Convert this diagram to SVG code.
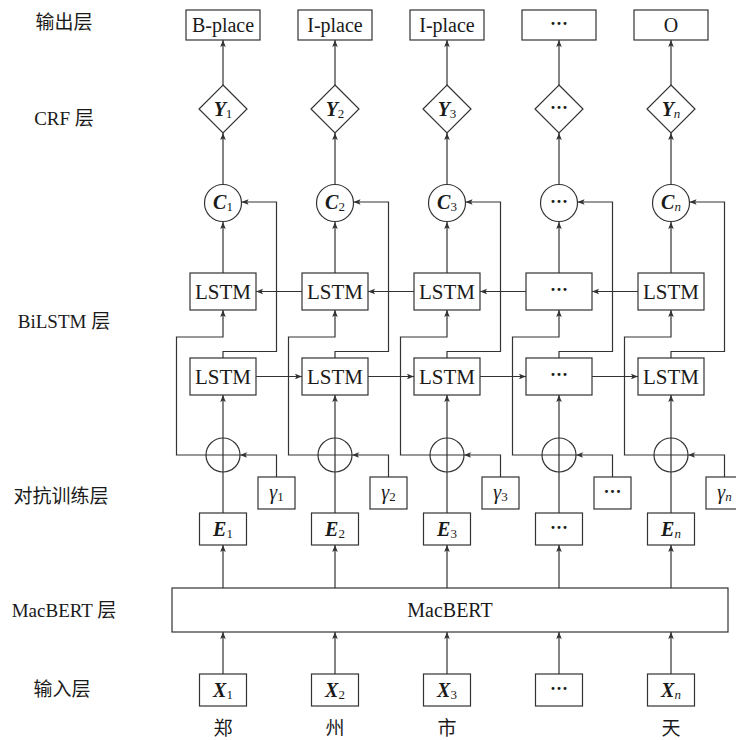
<svg xmlns="http://www.w3.org/2000/svg" width="736" height="740" viewBox="0 0 736 740">
<style>
.box{fill:#fff;stroke:#333;stroke-width:1.2}
.ln{fill:none;stroke:#333;stroke-width:1.2}
.arr{marker-end:url(#ah)}
text{font-family:"Liberation Serif","Noto Sans CJK SC",serif;fill:#1a1a1a;text-anchor:middle}
.lbl{font-size:19px}
.t{font-size:20px}
.ls{font-size:21px}
.sym{font-size:20px}
.bi{font-weight:bold;font-style:italic}
.it{font-style:italic}
.sub{font-size:13px}
.dots{font-size:18px;font-weight:bold}
.cjk{font-family:"Noto Sans CJK SC",sans-serif;font-size:19px}
</style>
<defs>
<marker id="ah" viewBox="0 0 10 10" refX="10" refY="5" markerWidth="7" markerHeight="7" markerUnits="userSpaceOnUse" orient="auto"><path d="M0,1 L10,5 L0,9 L2,5 z" fill="#333"/></marker>
</defs>
<g id="labels">
<text class="lbl" x="64" y="29">输出层</text>
<text class="lbl" x="64" y="125">CRF 层</text>
<text class="lbl" x="64" y="328">BiLSTM 层</text>
<text class="lbl" x="61" y="503">对抗训练层</text>
<text class="lbl" x="64" y="617">MacBERT 层</text>
<text class="lbl" x="62" y="696">输入层</text>
</g>
<g id="connectors">
<path class="ln arr" d="M223,85V40"/><path class="ln arr" d="M223,185V133"/><path class="ln arr" d="M223,273V222"/>
<path class="ln arr" d="M223,358V351.5H276.5V202H241.5"/><path class="ln arr" d="M223,438V395"/>
<path class="ln arr" d="M206,455H176.5V337H223V310"/><path class="ln arr" d="M276.5,477V455H240"/>
<path class="ln" d="M223,513V472"/><path class="ln arr" d="M223,588V545"/><path class="ln arr" d="M223,674V632"/>
<path class="ln arr" d="M335,85V40"/><path class="ln arr" d="M335,185V133"/><path class="ln arr" d="M335,273V222"/>
<path class="ln arr" d="M335,358V351.5H388.5V202H353.5"/><path class="ln arr" d="M335,438V395"/>
<path class="ln arr" d="M318,455H288.5V337H335V310"/><path class="ln arr" d="M388.5,477V455H352"/>
<path class="ln" d="M335,513V472"/><path class="ln arr" d="M335,588V545"/><path class="ln arr" d="M335,674V632"/>
<path class="ln arr" d="M447,85V40"/><path class="ln arr" d="M447,185V133"/><path class="ln arr" d="M447,273V222"/>
<path class="ln arr" d="M447,358V351.5H500.5V202H465.5"/><path class="ln arr" d="M447,438V395"/>
<path class="ln arr" d="M430,455H400.5V337H447V310"/><path class="ln arr" d="M500.5,477V455H464"/>
<path class="ln" d="M447,513V472"/><path class="ln arr" d="M447,588V545"/><path class="ln arr" d="M447,674V632"/>
<path class="ln arr" d="M559,85V40"/><path class="ln arr" d="M559,185V133"/><path class="ln arr" d="M559,273V222"/>
<path class="ln arr" d="M559,358V351.5H612.5V202H577.5"/><path class="ln arr" d="M559,438V395"/>
<path class="ln arr" d="M542,455H512.5V337H559V310"/><path class="ln arr" d="M612.5,477V455H576"/>
<path class="ln" d="M559,513V472"/><path class="ln arr" d="M559,588V545"/><path class="ln arr" d="M559,674V632"/>
<path class="ln arr" d="M671,85V40"/><path class="ln arr" d="M671,185V133"/><path class="ln arr" d="M671,273V222"/>
<path class="ln arr" d="M671,358V351.5H724.5V202H689.5"/><path class="ln arr" d="M671,438V395"/>
<path class="ln arr" d="M654,455H624.5V337H671V310"/><path class="ln arr" d="M724.5,477V455H688"/>
<path class="ln" d="M671,513V472"/><path class="ln arr" d="M671,588V545"/><path class="ln arr" d="M671,674V632"/>
<path class="ln arr" d="M302,291.5H256"/><path class="ln arr" d="M414,291.5H368"/><path class="ln arr" d="M526,291.5H480"/><path class="ln arr" d="M638,291.5H592"/>
<path class="ln arr" d="M256,376.5H302"/><path class="ln arr" d="M368,376.5H414"/><path class="ln arr" d="M480,376.5H526"/><path class="ln arr" d="M592,376.5H638"/>
</g>
<g id="macbert"><rect class="box" x="172" y="588" width="556" height="44"/><text class="t" x="450" y="617">MacBERT</text></g>
<g id="col1">
<g id="out1"><rect class="box" x="186" y="10" width="74" height="30"/><text class="t" x="223" y="32">B-place</text></g>
<g id="y1"><polygon class="box" points="223,85 247,109 223,133 199,109"/><text class="sym" x="223" y="116"><tspan class="bi">Y</tspan><tspan class="sub" dy="2">1</tspan></text></g>
<g id="c1"><circle class="box" cx="223" cy="203" r="18.5"/><text class="sym" x="223" y="209"><tspan class="bi">C</tspan><tspan class="sub" dy="2">1</tspan></text></g>
<g id="lstmb1"><rect class="box" x="190" y="273" width="66" height="37"/><text class="ls" x="223" y="299">LSTM</text></g>
<g id="lstmf1"><rect class="box" x="190" y="358" width="66" height="37"/><text class="ls" x="223" y="384">LSTM</text></g>
<g id="plus1"><circle class="box" cx="223" cy="455" r="17"/><path class="ln" d="M206,455H240M223,438V472"/></g>
<g id="g1"><rect class="box" x="258" y="477" width="37" height="32"/><text class="sym" x="276.5" y="499"><tspan class="it">γ</tspan><tspan class="sub" dy="2">1</tspan></text></g>
<g id="e1"><rect class="box" x="199.5" y="513" width="47" height="32"/><text class="sym" x="223" y="536"><tspan class="bi">E</tspan><tspan class="sub" dy="2">1</tspan></text></g>
<g id="x1"><rect class="box" x="199.5" y="674" width="47" height="32"/><text class="sym" x="223" y="697"><tspan class="bi">X</tspan><tspan class="sub" dy="2">1</tspan></text></g>
<text class="cjk" x="223" y="735">郑</text>
</g>
<g id="col2">
<g id="out2"><rect class="box" x="298" y="10" width="74" height="30"/><text class="t" x="335" y="32">I-place</text></g>
<g id="y2"><polygon class="box" points="335,85 359,109 335,133 311,109"/><text class="sym" x="335" y="116"><tspan class="bi">Y</tspan><tspan class="sub" dy="2">2</tspan></text></g>
<g id="c2"><circle class="box" cx="335" cy="203" r="18.5"/><text class="sym" x="335" y="209"><tspan class="bi">C</tspan><tspan class="sub" dy="2">2</tspan></text></g>
<g id="lstmb2"><rect class="box" x="302" y="273" width="66" height="37"/><text class="ls" x="335" y="299">LSTM</text></g>
<g id="lstmf2"><rect class="box" x="302" y="358" width="66" height="37"/><text class="ls" x="335" y="384">LSTM</text></g>
<g id="plus2"><circle class="box" cx="335" cy="455" r="17"/><path class="ln" d="M318,455H352M335,438V472"/></g>
<g id="g2"><rect class="box" x="370" y="477" width="37" height="32"/><text class="sym" x="388.5" y="499"><tspan class="it">γ</tspan><tspan class="sub" dy="2">2</tspan></text></g>
<g id="e2"><rect class="box" x="311.5" y="513" width="47" height="32"/><text class="sym" x="335" y="536"><tspan class="bi">E</tspan><tspan class="sub" dy="2">2</tspan></text></g>
<g id="x2"><rect class="box" x="311.5" y="674" width="47" height="32"/><text class="sym" x="335" y="697"><tspan class="bi">X</tspan><tspan class="sub" dy="2">2</tspan></text></g>
<text class="cjk" x="335" y="735">州</text>
</g>
<g id="col3">
<g id="out3"><rect class="box" x="410" y="10" width="74" height="30"/><text class="t" x="447" y="32">I-place</text></g>
<g id="y3"><polygon class="box" points="447,85 471,109 447,133 423,109"/><text class="sym" x="447" y="116"><tspan class="bi">Y</tspan><tspan class="sub" dy="2">3</tspan></text></g>
<g id="c3"><circle class="box" cx="447" cy="203" r="18.5"/><text class="sym" x="447" y="209"><tspan class="bi">C</tspan><tspan class="sub" dy="2">3</tspan></text></g>
<g id="lstmb3"><rect class="box" x="414" y="273" width="66" height="37"/><text class="ls" x="447" y="299">LSTM</text></g>
<g id="lstmf3"><rect class="box" x="414" y="358" width="66" height="37"/><text class="ls" x="447" y="384">LSTM</text></g>
<g id="plus3"><circle class="box" cx="447" cy="455" r="17"/><path class="ln" d="M430,455H464M447,438V472"/></g>
<g id="g3"><rect class="box" x="482" y="477" width="37" height="32"/><text class="sym" x="500.5" y="499"><tspan class="it">γ</tspan><tspan class="sub" dy="2">3</tspan></text></g>
<g id="e3"><rect class="box" x="423.5" y="513" width="47" height="32"/><text class="sym" x="447" y="536"><tspan class="bi">E</tspan><tspan class="sub" dy="2">3</tspan></text></g>
<g id="x3"><rect class="box" x="423.5" y="674" width="47" height="32"/><text class="sym" x="447" y="697"><tspan class="bi">X</tspan><tspan class="sub" dy="2">3</tspan></text></g>
<text class="cjk" x="447" y="735">市</text>
</g>
<g id="col4">
<g id="out4"><rect class="box" x="522" y="10" width="74" height="30"/><text class="dots" x="559" y="30">···</text></g>
<g id="y4"><polygon class="box" points="559,85 583,109 559,133 535,109"/><text class="dots" x="559" y="114">···</text></g>
<g id="c4"><circle class="box" cx="559" cy="203" r="18.5"/><text class="dots" x="559" y="208">···</text></g>
<g id="lstmb4"><rect class="box" x="526" y="273" width="66" height="37"/><text class="dots" x="559" y="296">···</text></g>
<g id="lstmf4"><rect class="box" x="526" y="358" width="66" height="37"/><text class="dots" x="559" y="381">···</text></g>
<g id="plus4"><circle class="box" cx="559" cy="455" r="17"/><path class="ln" d="M542,455H576M559,438V472"/></g>
<g id="g4"><rect class="box" x="594" y="477" width="37" height="32"/><text class="dots" x="612.5" y="498">···</text></g>
<g id="e4"><rect class="box" x="535.5" y="513" width="47" height="32"/><text class="dots" x="559" y="534">···</text></g>
<g id="x4"><rect class="box" x="535.5" y="674" width="47" height="32"/><text class="dots" x="559" y="695">···</text></g>
</g>
<g id="col5">
<g id="out5"><rect class="box" x="634" y="10" width="74" height="30"/><text class="t" x="671" y="32">O</text></g>
<g id="y5"><polygon class="box" points="671,85 695,109 671,133 647,109"/><text class="sym" x="671" y="116"><tspan class="bi">Y</tspan><tspan class="sub it" dy="2">n</tspan></text></g>
<g id="c5"><circle class="box" cx="671" cy="203" r="18.5"/><text class="sym" x="671" y="209"><tspan class="bi">C</tspan><tspan class="sub it" dy="2">n</tspan></text></g>
<g id="lstmb5"><rect class="box" x="638" y="273" width="66" height="37"/><text class="ls" x="671" y="299">LSTM</text></g>
<g id="lstmf5"><rect class="box" x="638" y="358" width="66" height="37"/><text class="ls" x="671" y="384">LSTM</text></g>
<g id="plus5"><circle class="box" cx="671" cy="455" r="17"/><path class="ln" d="M654,455H688M671,438V472"/></g>
<g id="g5"><rect class="box" x="706" y="477" width="37" height="32"/><text class="sym" x="724.5" y="499"><tspan class="it">γ</tspan><tspan class="sub it" dy="2">n</tspan></text></g>
<g id="e5"><rect class="box" x="647.5" y="513" width="47" height="32"/><text class="sym" x="671" y="536"><tspan class="bi">E</tspan><tspan class="sub it" dy="2">n</tspan></text></g>
<g id="x5"><rect class="box" x="647.5" y="674" width="47" height="32"/><text class="sym" x="671" y="697"><tspan class="bi">X</tspan><tspan class="sub it" dy="2">n</tspan></text></g>
<text class="cjk" x="671" y="735">天</text>
</g>
</svg>
